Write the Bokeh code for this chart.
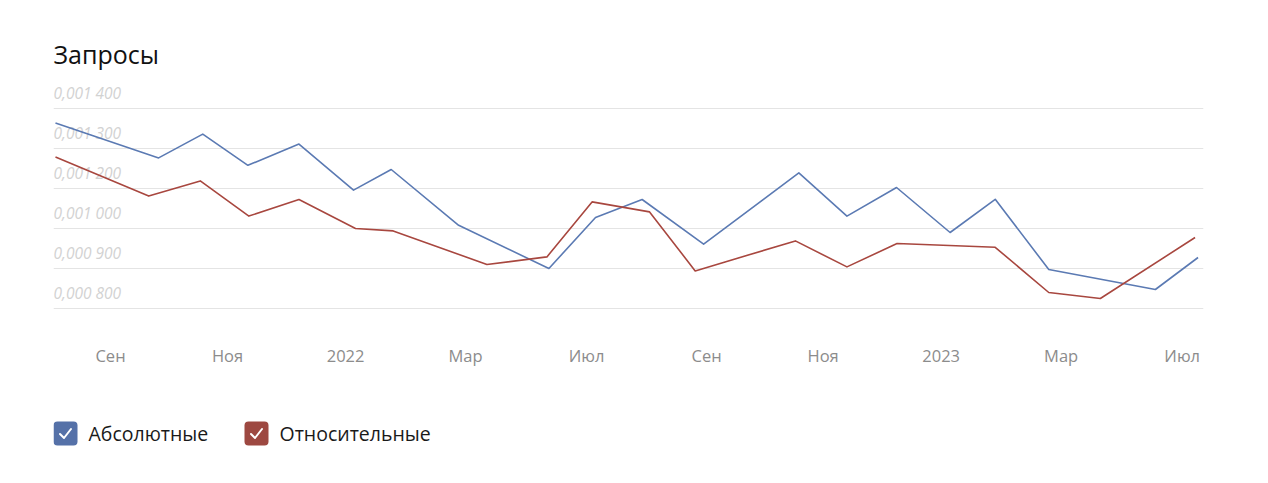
from bokeh.plotting import figure
from bokeh.layouts import column
from bokeh.models import Range1d, FixedTicker
from bokeh.core.properties import value
from bokeh.embed import file_html
from bokeh.resources import INLINE

# ---------------- data ----------------
title_text = "Запросы"
series_names = ["Абсолютные", "Относительные"]
series_colors = ["#5b7ab3", "#a8473f"]
box_colors = ["#5571a8", "#9d4841"]

# x: position in months-like units from the first point
abs_x = [0.0, 2.08, 2.97, 3.88, 4.91, 6.01, 6.77, 8.13, 9.95, 10.89, 11.83,
         13.07, 14.99, 15.96, 16.96, 18.04, 18.95, 20.03, 22.18, 23.04]
abs_y = [0.001364, 0.0012765, 0.001336, 0.001258, 0.001311, 0.001196, 0.0012475,
         0.001108, 0.001000, 0.0011275, 0.0011725, 0.001061, 0.001239, 0.001131,
         0.0012025, 0.001090, 0.001173, 0.0009975, 0.0009475, 0.0010275]

rel_x = [0.0, 1.88, 2.92, 3.90, 4.91, 6.05, 6.81, 8.70, 9.91, 10.82, 11.98,
         12.90, 14.92, 15.96, 16.97, 18.95, 20.03, 21.07, 22.98]
rel_y = [0.001279, 0.001181, 0.001219, 0.001131, 0.0011725, 0.001100, 0.001094,
         0.001010, 0.001029, 0.0011665, 0.0011415, 0.000994, 0.001069, 0.001004,
         0.0010625, 0.001053, 0.000940, 0.000925, 0.0010775]

x_tick_pos = [1.11, 3.47, 5.85, 8.27, 10.71, 13.13, 15.48, 17.86, 20.28, 22.72]
x_tick_labels = ["Сен", "Ноя", "2022", "Мар", "Июл", "Сен", "Ноя", "2023", "Мар", "Июл"]

y_tick_vals = [0.00140, 0.00130, 0.00120, 0.00110, 0.00100, 0.00090]
y_tick_labels = ["0,001 400", "0,001 300", "0,001 200", "0,001 000", "0,000 900", "0,000 800"]

FONT = "Open Sans"

# ---------------- layout constants ----------------
W = 1252
FRAME_L = 53
FRAME_R = 1203
H_MAIN = 390

# ---------------- main chart ----------------
p = figure(width=W, height=H_MAIN, output_backend="svg", toolbar_location=None,
           x_range=Range1d(-0.04, 23.15), y_range=Range1d(0.00087, 0.00147),
           min_border_left=FRAME_L, min_border_right=W - FRAME_R, min_border_top=80,
           min_border_bottom=70, background_fill_color="white",
           border_fill_color="white", outline_line_color=None,
           title=title_text)

p.title.text_font = FONT
p.title.text_font_size = "25px"
p.title.text_font_style = "normal"
p.title.text_color = "#111111"
p.title.align = "left"
p.title.standoff = 19

p.yaxis.visible = False
p.yaxis.ticker = FixedTicker(ticks=y_tick_vals)
p.ygrid.grid_line_color = "#e4e4e4"
p.ygrid.grid_line_width = 1
p.xgrid.grid_line_color = None

xa = p.xaxis[0]
xa.ticker = FixedTicker(ticks=x_tick_pos)
xa.major_label_overrides = {t: l for t, l in zip(x_tick_pos, x_tick_labels)}
xa.axis_line_color = None
xa.major_tick_line_color = None
xa.minor_tick_line_color = None
xa.major_tick_out = 0
xa.major_tick_in = 0
xa.major_label_standoff = 23
xa.major_label_text_font = FONT
xa.major_label_text_font_size = "16.5px"
xa.major_label_text_color = "#8c8c8c"

# y tick labels drawn inside the plot, above their grid lines
p.text(x=[p.x_range.start] * len(y_tick_vals), y=y_tick_vals, text=y_tick_labels,
       text_font=value(FONT), text_font_size="15.5px", text_font_style="italic",
       text_color="#d2d2d2", text_align="left", text_baseline="bottom",
       y_offset=-5)

p.line(abs_x, abs_y, line_color=series_colors[0], line_width=1.6, line_join="round")
p.line(rel_x, rel_y, line_color=series_colors[1], line_width=1.6, line_join="round")

# ---------------- legend (checkbox style) ----------------
H_LEG = 85
# legend frame aligned with the main frame; coordinates in page pixels
lg = figure(width=W, height=H_LEG, output_backend="svg", toolbar_location=None,
            x_range=Range1d(FRAME_L, FRAME_R), y_range=Range1d(H_MAIN + H_LEG, H_MAIN),
            min_border_left=FRAME_L, min_border_right=W - FRAME_R,
            min_border_top=0, min_border_bottom=0,
            background_fill_color="white", border_fill_color="white",
            outline_line_color=None)
lg.axis.visible = False
lg.grid.visible = False

box_x = [65, 256]
text_x = [88, 279]
cy = 433
lg.rect(x=box_x, y=[cy, cy], width=24, height=24, width_units="screen",
        height_units="screen", fill_color=box_colors, line_color=None,
        border_radius=4)
for bx in box_x:
    lg.line([bx - 5.5, bx - 1.5, bx + 5.5], [cy + 0.5, cy + 4.5, cy - 4.5],
            line_color="white", line_width=2, line_join="round", line_cap="round")
lg.text(x=text_x, y=[cy, cy], text=series_names, text_font=value(FONT),
        text_font_size="19.5px", text_color="#1a1a1a", text_align="left",
        text_baseline="middle")

layout = column(p, lg, spacing=0)
open("out.html", "w").write(file_html(layout, INLINE))
